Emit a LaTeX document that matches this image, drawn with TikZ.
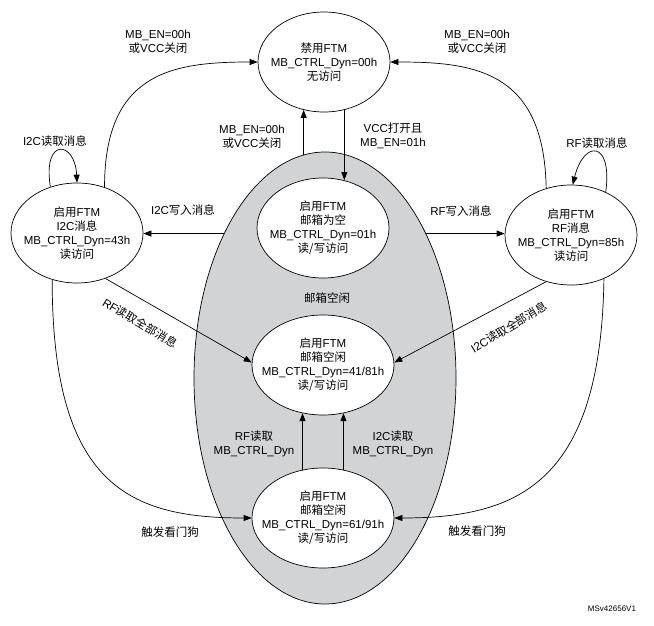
\documentclass[tikz,border=0pt]{standalone}
\usepackage{fontspec}
\setmainfont{Liberation Sans}
\newfontfamily\cjk{Noto Sans CJK SC}
\usetikzlibrary{shapes.geometric}
\usetikzlibrary{arrows.meta}
\newcommand{\zh}[1]{{\cjk #1}}
\definecolor{zonegray}{RGB}{209,211,212}

\begin{document}
\begin{tikzpicture}[x=1pt,y=-1pt,line width=0.7pt,
  >={Triangle[length=8pt,width=6pt]},
  txt/.style={align=center,font=\fontsize{11.5}{14}\selectfont,inner sep=0pt},
  state/.style={txt,draw,ellipse,fill=white,inner xsep=-15pt,inner ysep=0pt,
    minimum width=132pt,minimum height=100pt}]
  \useasboundingbox (0,0) rectangle (654,626);
  \node[draw,ellipse,fill=zonegray,minimum width=262pt,minimum height=452pt] (zone) at (325,378) {};
  \node[txt] (zonelbl) at (327,298) {\zh{邮箱空闲}};

  \node[state] (off) at (324,62) {\zh{禁用}FTM\\MB\_CTRL\_Dyn=00h\\\zh{无访问}};
  \node[state] (empty) at (323,228) {\zh{启用}FTM\\\zh{邮箱为空}\\MB\_CTRL\_Dyn=01h\\\zh{读/写访问}};
  \node[state] (i2c) at (77,233) {\zh{启用}FTM\\I2C\zh{消息}\\MB\_CTRL\_Dyn=43h\\\zh{读访问}};
  \node[state] (rf) at (571,235) {\zh{启用}FTM\\RF\zh{消息}\\MB\_CTRL\_Dyn=85h\\\zh{读访问}};
  \node[state,minimum width=142pt] (idle) at (323,365) {\zh{启用}FTM\\\zh{邮箱空闲}\\MB\_CTRL\_Dyn=41/81h\\\zh{读/写访问}};
  \node[state,minimum width=142pt] (wdog) at (323,518) {\zh{启用}FTM\\\zh{邮箱空闲}\\MB\_CTRL\_Dyn=61/91h\\\zh{读/写访问}};

  % transitions
  \draw[->] (off.247 |- zone.96) -- (off.247);
  \draw[->] (off.293) -- (off.293 |- empty.67);
  \draw[->] (zone.125) -- (zone.125 -| i2c.east);
  \draw[->] (zone.55) -- (zone.55 -| rf.west);
  \draw[->] (i2c.59) .. controls +(0,-115) and +(-85,0) .. (off.west);
  \draw[->] (rf.118) .. controls +(-2,-117) and +(85,0) .. (off.east);
  \draw[->] (i2c.120) .. controls +(-8,-50) and +(-2,-42) .. (i2c.north);
  \draw[->] (rf.51) .. controls +(7,-52) and +(11,-45) .. (rf.88);
  \draw[->] (i2c.302) -- (idle.178);
  \draw[->] (rf.242) -- (idle.2);
  \draw[->] (wdog.113) -- (wdog.113 |- idle.247);
  \draw[->] (wdog.67) -- (wdog.67 |- idle.293);
  \draw[->] (i2c.242) .. controls +(0,206) and +(-122,0) .. (wdog.west);
  \draw[->] (rf.307) .. controls +(-3,206) and +(122,0) .. (wdog.east);

  % labels
  \node[txt] (offl) at (158,42) {MB\_EN=00h\\\zh{或}VCC\zh{关闭}};
  \node[txt] (offr) at (477,42) {MB\_EN=00h\\\zh{或}VCC\zh{关闭}};
  \node[txt] (offc) at (252,137) {MB\_EN=00h\\\zh{或}VCC\zh{关闭}};
  \node[txt] (vccon) at (393,136) {VCC\zh{打开且}\\MB\_EN=01h};
  \node[txt] (i2crd) at (55,141) {I2C\zh{读取消息}};
  \node[txt] (rfrd) at (597,143) {RF\zh{读取消息}};
  \node[txt] (i2cwr) at (183,210) {I2C\zh{写入消息}};
  \node[txt] (rfwr) at (461,211) {RF\zh{写入消息}};
  \node[txt,rotate=-31] (rfall) at (140,323) {RF\zh{读取全部消息}};
  \node[txt,rotate=31] (i2call) at (509,327) {I2C\zh{读取全部消息}};
  \node[txt] (rfdyn) at (254,444) {RF\zh{读取}\\MB\_CTRL\_Dyn};
  \node[txt] (i2cdyn) at (393,444) {I2C\zh{读取}\\MB\_CTRL\_Dyn};
  \node[txt] (wdl) at (170,532) {\zh{触发看门狗}};
  \node[txt] (wdr) at (477,531) {\zh{触发看门狗}};
  \node[font=\fontsize{8}{9}\selectfont] (tag) at (612,609) {MSv42656V1};
\end{tikzpicture}
\end{document}
